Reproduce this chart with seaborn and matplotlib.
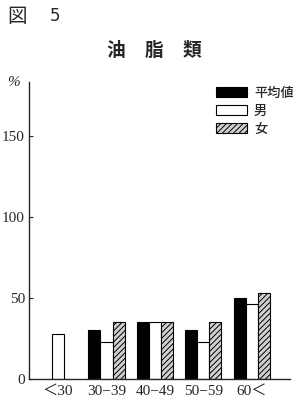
import matplotlib
matplotlib.use('Agg')
import matplotlib.pyplot as plt
import matplotlib.patches as mpatches
import matplotlib.colors as mcolors
import numpy as np
import pandas as pd
import seaborn as sns

# data (percent)
ages = ['＜30', '30−39', '40−49', '50−59', '60＜']
groups = ['平均値', '男', '女']
avg = [np.nan, 30, 35, 30, 50]
male = [28, 23, 35, 23, 46]
female = [np.nan, 35, 35, 35, 53]

sns.set_style('ticks')
plt.rcParams['font.family'] = ['Liberation Serif', 'Noto Sans CJK JP', 'DejaVu Sans']
plt.rcParams['hatch.color'] = '#333333'
plt.rcParams['hatch.linewidth'] = 0.7
jp = ['Noto Sans CJK JP', 'DejaVu Sans']
gray = '#d0d0d0'

df = pd.DataFrame({
    'age': ages * 3,
    'group': [g for g in groups for _ in ages],
    'value': avg + male + female,
})

fig = plt.figure(figsize=(2.93, 4.03), dpi=100)
ax = fig.add_axes([29 / 293, 1 - 379 / 403, 261 / 293, 297 / 403])

sns.barplot(data=df, x='age', y='value', hue='group', order=ages, hue_order=groups,
            palette=['black', 'white', gray], width=0.75, gap=0,
            edgecolor='black', linewidth=0.8, legend=False, ax=ax, errorbar=None)

for bar in ax.patches:
    if mcolors.to_hex(bar.get_facecolor()) == gray:
        bar.set_hatch('//////')
        bar.set_edgecolor('black')

ax.set_xlim(-0.60, 4.79)
ax.set_ylim(0, 183)
ax.set_yticks([0, 50, 100, 150])
ax.set_xlabel('')
ax.set_ylabel('')
sns.despine(ax=ax)
ax.tick_params(axis='y', direction='in', length=3, width=0.8, labelsize=11, pad=3)
ax.tick_params(axis='x', length=0, labelsize=11, pad=4)
for s in ['left', 'bottom']:
    ax.spines[s].set_linewidth(1.0)

handles = [
    mpatches.Patch(facecolor='black', edgecolor='black', linewidth=0.8),
    mpatches.Patch(facecolor='white', edgecolor='black', linewidth=0.8),
    mpatches.Patch(facecolor=gray, edgecolor='black', hatch='//////', linewidth=0.8),
]
ax.legend(handles, groups, loc='upper left', bbox_to_anchor=(0.69, 1.01), frameon=False,
          borderpad=0, handlelength=2.4, handleheight=0.8, labelspacing=0.3,
          handletextpad=0.5, prop={'family': jp, 'size': 9.5, 'weight': 'medium'})

ax.text(-0.085, 1.0, '%', transform=ax.transAxes, fontsize=11, style='italic',
        ha='left', va='center')

for x, ch in zip([116, 154, 192], '油脂類'):
    fig.text(x / 293, 1 - 50 / 403, ch, family=jp, fontsize=13.5, weight='bold',
             ha='center', va='center')
fig.text(7 / 293, 1 - 16 / 403, '図', family=jp, fontsize=14, ha='left', va='center')
fig.text(50 / 293, 1 - 16 / 403, '5', family=['DejaVu Sans'], fontsize=12, ha='left', va='center')

fig.savefig('out.png', dpi=100)
